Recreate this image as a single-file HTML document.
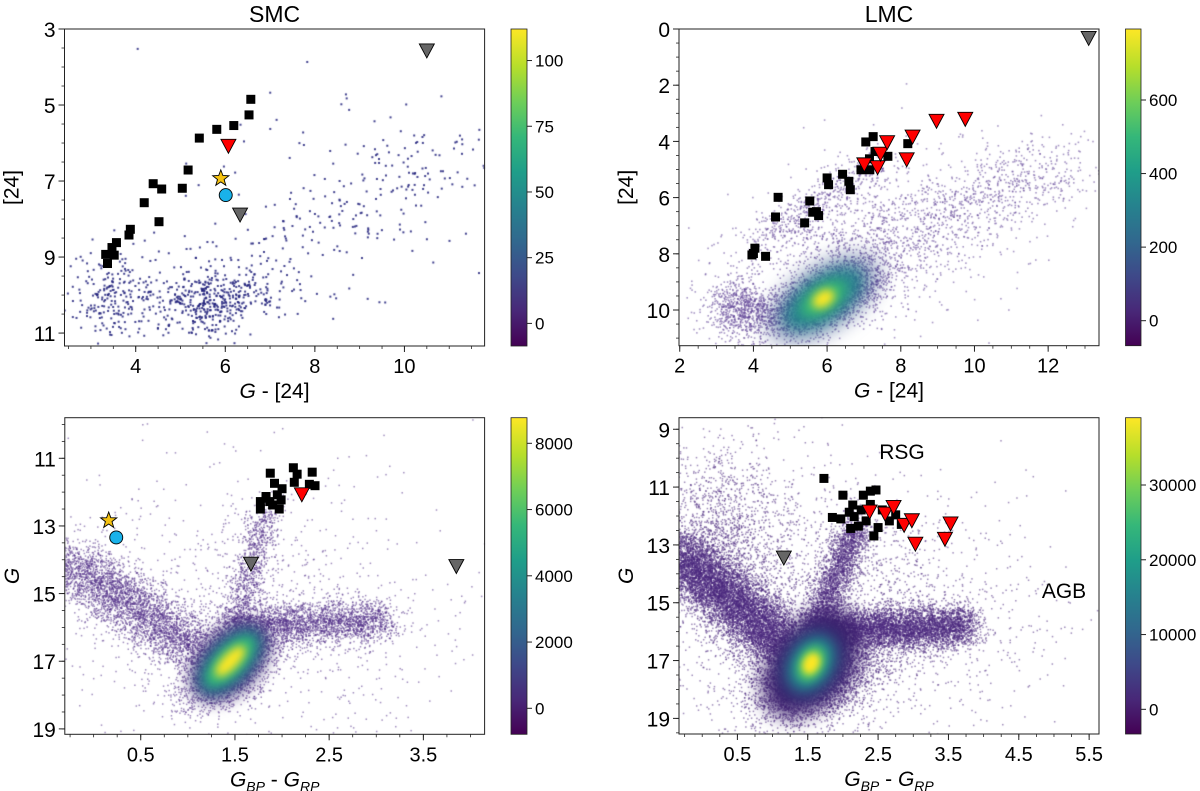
<!DOCTYPE html>
<html><head><meta charset="utf-8"><style>
html,body{margin:0;padding:0;background:#fff}
#wrap{position:relative;width:1200px;height:791px;overflow:hidden}
canvas,svg{position:absolute;left:0;top:0}
text{font-family:"Liberation Sans","DejaVu Sans",sans-serif;fill:#000}
</style></head><body>
<div id="wrap">
<canvas id="cv" width="1200" height="791"></canvas>
<svg id="sv" width="1200" height="791" xmlns="http://www.w3.org/2000/svg">
<defs>
<linearGradient id="vir" x1="0" y1="1" x2="0" y2="0">
<stop offset="0" stop-color="#440154"/><stop offset="0.11" stop-color="#482878"/><stop offset="0.22" stop-color="#3e4989"/><stop offset="0.33" stop-color="#31688e"/><stop offset="0.44" stop-color="#26828e"/><stop offset="0.55" stop-color="#1f9e89"/><stop offset="0.66" stop-color="#35b779"/><stop offset="0.77" stop-color="#6ece58"/><stop offset="0.88" stop-color="#b5de2b"/><stop offset="1" stop-color="#fde725"/>
</linearGradient>
</defs>
</svg>
</div>
<script>
// ---- Data arrays ----
const smcTopSqX=[6.57,6.53,6.19,5.81,5.42,5.17,5.04,4.58,4.39,4.19,4.52,3.88,3.85,3.57,3.47,3.33,3.52,3.37];
const smcTopSqY=[4.85,5.26,5.54,5.64,5.87,6.71,7.19,7.21,7.07,7.57,8.07,8.27,8.42,8.62,8.75,8.93,8.95,9.17];
const smcTopRedX=[6.07], smcTopRedY=[6.06];
const smcTopGrayX=[6.33,10.5], smcTopGrayY=[7.87,3.55];
const smcTopStarX=[5.90], smcTopStarY=[6.93];
const smcTopCircX=[6.01], smcTopCircY=[7.37];

const lmcTopSqX=[4.67,4.60,5.39,5.53,5.61,5.71,5.77,6.00,6.04,6.42,6.59,6.63,6.92,7.05,7.25,7.15,7.30,7.16,7.65,8.19,4.00,4.04,3.96,4.33];
const lmcTopSqY=[5.99,6.69,6.90,6.12,6.52,6.50,6.64,5.30,5.54,5.17,5.42,5.72,5.01,4.02,3.83,4.62,4.36,5.01,4.53,4.08,7.99,7.80,8.04,8.09];
const lmcTopRedX=[7.01,7.37,7.45,7.63,8.16,8.32,8.97,9.75];
const lmcTopRedY=[4.80,4.90,4.42,4.01,4.62,3.81,3.25,3.18];
const lmcTopGrayX=[13.1], lmcTopGrayY=[0.30];

const smcBotSqX=[1.875,2.12,2.16,2.32,2.13,2.29,2.35,1.92,2.0,1.95,1.83,1.77,1.87,1.99,1.77,1.90,1.97,1.83];
const smcBotSqY=[11.44,11.28,11.47,11.41,11.71,11.77,11.81,11.74,11.9,12.08,12.13,12.28,12.28,12.23,12.50,12.38,12.50,12.18];
const smcBotRedX=[2.21], smcBotRedY=[12.05];
const smcBotGrayX=[1.67,3.85], smcBotGrayY=[14.10,14.17];
const smcBotStarX=[0.16], smcBotStarY=[12.84];
const smcBotCircX=[0.24], smcBotCircY=[13.34];

const lmcBotSqX=[1.73,2.0,2.29,2.39,2.47,2.14,2.39,2.09,2.56,1.85,1.97,2.16,2.33,2.11,2.22,2.50,2.44,2.66,2.83,2.75,2.26];
const lmcBotSqY=[10.70,11.28,11.28,11.14,11.10,11.62,11.60,11.87,11.79,12.05,12.10,12.02,12.17,12.43,12.35,12.40,12.69,12.17,12.29,11.96,11.79];
const lmcBotRedX=[2.38,2.60,2.72,2.87,2.98,3.03,3.45,3.53];
const lmcBotRedY=[11.83,11.90,11.67,12.29,12.13,12.94,12.77,12.24];
const lmcBotGrayX=[1.16], lmcBotGrayY=[13.42];

const cb1Ticks=[0,25,50,75,100], cb2Ticks=[0,200,400,600], cb3Ticks=[0,2000,4000,6000,8000], cb4Ticks=[0,10000,20000,30000];
const p1XTicks=[4,6,8,10], p1YTicks=[3,5,7,9,11];
const p2XTicks=[2,4,6,8,10,12], p2YTicks=[0,2,4,6,8,10];
const p3XTicks=[0.5,1.5,2.5,3.5], p3YTicks=[11,13,15,17,19];
const p4XTicks=[0.5,1.5,2.5,3.5,4.5,5.5], p4YTicks=[9,11,13,15,17,19];

const NS="http://www.w3.org/2000/svg";
const sv=document.getElementById('sv');
function el(tag,attrs,parent){const e=document.createElementNS(NS,tag);for(const k in attrs)e.setAttribute(k,attrs[k]);(parent||sv).appendChild(e);return e;}

function makePanel(o){
  o.px=x=>o.L+(x-o.xmin)/(o.xmax-o.xmin)*(o.R-o.L);
  o.py=y=>o.T+(y-o.ymin)/(o.ymax-o.ymin)*(o.B-o.T);
  return o;
}
const P1=makePanel({L:64.5,R:484.6,T:29,B:346,xmin:2.41,xmax:11.79,ymin:3,ymax:11.34,xminor:0.5,yminor:0.5,cbL:511,cbR:527,cmin:-8.6,cmax:112});
const P2=makePanel({L:679,R:1099,T:29,B:345.7,xmin:1.98,xmax:13.38,ymin:0,ymax:11.27,xminor:0.5,yminor:0.5,cbL:1125.5,cbR:1141,cmin:-68,cmax:793});
const P3=makePanel({L:64.8,R:484.6,T:417.7,B:734.3,xmin:-0.306,xmax:4.15,ymin:9.8,ymax:19.16,xminor:0.25,yminor:0.5,cbL:511,cbR:527,cmin:-785,cmax:8773});
const P4=makePanel({L:679,R:1099,T:417.7,B:734,xmin:-0.33,xmax:5.64,ymin:8.6,ymax:19.54,xminor:0.25,yminor:0.5,cbL:1125.5,cbR:1141,cmin:-3300,cmax:39000});

// ---- density clouds (background rendering) ----
const cv=document.getElementById('cv');const ctx=cv.getContext('2d');
let seed=12345;function rnd(){seed|=0;seed=seed+0x6D2B79F5|0;let t=Math.imul(seed^seed>>>15,1|seed);t=t+Math.imul(t^t>>>7,61|t)^t;return((t^t>>>14)>>>0)/4294967296;}
function gauss(){let u=rnd()||1e-9,v=rnd();return Math.sqrt(-2*Math.log(u))*Math.cos(2*Math.PI*v);}
function cloud(P,c,col,r){
  ctx.save();ctx.beginPath();ctx.rect(P.L,P.T,P.R-P.L,P.B-P.T);ctx.clip();ctx.fillStyle=col;
  for(let i=0;i<c.n;i++){
    let x,y;
    if(c.band){const t=rnd();const g=gauss()*c.w;x=c.x1+(c.x2-c.x1)*t+g*c.nx;y=c.y1+(c.y2-c.y1)*t+gauss()*c.w*c.ny;}
    else{const g1=gauss(),g2=gauss();x=c.cx+c.sx*g1;y=c.cy+c.sy*(c.rho*g1+Math.sqrt(1-c.rho*c.rho)*g2);}
    ctx.fillRect(P.px(x)-r/2,P.py(y)-r/2,r,r);
  }
  ctx.restore();
}
function heat(P,cx,cy,layers){
  ctx.save();ctx.beginPath();ctx.rect(P.L,P.T,P.R-P.L,P.B-P.T);ctx.clip();
  for(const l of layers){ctx.filter='blur('+l.b+'px)';ctx.fillStyle=l.c;ctx.beginPath();ctx.ellipse(P.px(cx)+(l.dx||0),P.py(cy)+(l.dy||0),l.a,l.bb,l.rot,0,2*Math.PI);ctx.fill();}
  ctx.restore();
}
// P1
const c1='rgba(35,35,125,0.85)';
cloud(P1,{cx:5.7,cy:10.2,sx:0.6,sy:0.4,rho:-0.3,n:300},c1,2);
cloud(P1,{cx:3.4,cy:10.0,sx:0.4,sy:0.6,rho:0,n:160},c1,2);
cloud(P1,{cx:5.2,cy:9.9,sx:1.4,sy:0.7,rho:0,n:260},c1,2);
cloud(P1,{band:1,x1:6.5,y1:9.2,x2:11.6,y2:6.0,w:0.75,nx:0.8,ny:0.9,n:200},c1,2);
cloud(P1,{cx:8,cy:7,sx:2.5,sy:1.8,rho:0,n:60},c1,2);
// P2
const c2='rgba(95,65,150,0.55)';
cloud(P2,{cx:3.7,cy:10.0,sx:0.45,sy:0.5,rho:0,n:700},c2,1.6);
cloud(P2,{cx:5.9,cy:9.6,sx:0.9,sy:0.65,rho:-0.6,n:2400},c2,1.6);
cloud(P2,{band:1,x1:5.8,y1:8.5,x2:12.5,y2:4.8,w:0.8,nx:0.9,ny:0.9,n:1100},c2,1.6);
cloud(P2,{band:1,x1:4.2,y1:7.5,x2:7.5,y2:4.8,w:0.5,nx:0.7,ny:0.7,n:500},c2,1.6);
cloud(P2,{cx:6.8,cy:8.2,sx:2.4,sy:1.9,rho:-0.5,n:1000},c2,1.6);
heat(P2,5.9,9.6,[{c:'rgba(60,80,140,0.5)',a:65,bb:32,rot:-0.6,b:10},{c:'#25858e',a:46,bb:22,rot:-0.6,b:8},{c:'#3cbb75',a:26,bb:13,rot:-0.6,b:6},{c:'#fde725',a:12,bb:8,rot:-0.6,b:4}]);
// P3
const c3='rgba(80,45,135,0.55)';
cloud(P3,{band:1,x1:-0.35,y1:14.0,x2:1.2,y2:16.8,w:0.5,nx:0.35,ny:0.9,n:3800},c3,1.5);
cloud(P3,{band:1,x1:1.4,y1:16.0,x2:3.1,y2:15.8,w:0.32,nx:0.4,ny:1,n:2800},c3,1.5);
cloud(P3,{band:1,x1:1.5,y1:16.0,x2:1.82,y2:12.6,w:0.1,nx:1,ny:1.5,n:900},c3,1.5);
cloud(P3,{cx:1.45,cy:17.2,sx:0.25,sy:0.6,rho:-0.5,n:2500},c3,1.5);
cloud(P3,{cx:1.6,cy:15.5,sx:1.2,sy:2.0,rho:0,n:1100},c3,1.5);
heat(P3,1.45,17.0,[{c:'rgba(70,40,120,0.8)',a:48,bb:30,rot:-0.8,b:8},{c:'#2a788e',a:42,bb:22,rot:-0.8,b:7},{c:'#35b779',a:32,bb:14,rot:-0.8,b:5},{c:'#fde725',a:20,bb:8,rot:-0.8,b:4}]);
// P4
const c4='rgba(75,40,125,0.55)';
cloud(P4,{band:1,x1:-0.4,y1:13.2,x2:1.3,y2:16.8,w:0.55,nx:0.4,ny:1,n:9000},c4,1.5);
cloud(P4,{band:1,x1:1.6,y1:16.0,x2:3.8,y2:15.8,w:0.38,nx:0.4,ny:1,n:6000},c4,1.5);
cloud(P4,{band:1,x1:1.6,y1:16.0,x2:2.2,y2:12.3,w:0.14,nx:1,ny:1.5,n:2500},c4,1.5);
cloud(P4,{cx:1.6,cy:17.6,sx:0.4,sy:0.7,rho:-0.3,n:5000},c4,1.5);
cloud(P4,{cx:0.3,cy:12.5,sx:0.5,sy:1.5,rho:0,n:1500},c4,1.5);
cloud(P4,{cx:1.8,cy:15.5,sx:1.3,sy:2.2,rho:0,n:2500},c4,1.5);
heat(P4,1.55,17.1,[{c:'#3a1f6c',a:60,bb:38,rot:-0.9,b:10},{c:'rgba(45,100,140,0.8)',a:36,bb:26,rot:-1.0,b:8},{c:'#21918c',a:26,bb:18,rot:-1.0,b:6},{c:'#5ec962',a:18,bb:12,rot:-1.1,b:4},{c:'#fde725',a:11,bb:8,rot:-1.1,b:3}]);
ctx.filter='none';

// ---- axes ----
function fmt(v){return (Math.round(v*10)/10).toString();}
function axes(P,name,xt,yt,cbt,title,xlab,ylab,xlabSub){
  const g=el('g',{});
  
  
  el('rect',{x:P.L,y:P.T,width:P.R-P.L,height:P.B-P.T,fill:'none',stroke:'#222','stroke-width':1},g);
  for(let v=Math.ceil(P.xmin/P.xminor)*P.xminor;v<=P.xmax;v+=P.xminor){el('line',{x1:P.px(v),x2:P.px(v),y1:P.B,y2:P.B+3,stroke:'#222','stroke-width':0.8},g);}
  for(let v=Math.ceil(P.ymin/P.yminor)*P.yminor;v<=P.ymax;v+=P.yminor){el('line',{x1:P.L-3,x2:P.L,y1:P.py(v),y2:P.py(v),stroke:'#222','stroke-width':0.8},g);}
  xt.forEach(v=>{const x=P.px(v);el('line',{x1:x,x2:x,y1:P.B,y2:P.B+6,stroke:'#222'},g);
    const t=el('text',{x:x,y:P.B+27,'font-size':20,'text-anchor':'middle'},g);t.textContent=fmt(v);
    
    });
  yt.forEach(v=>{const y=P.py(v);el('line',{x1:P.L-6,x2:P.L,y1:y,y2:y,stroke:'#222'},g);
    const t=el('text',{x:P.L-9,y:y+8,'font-size':21,'text-anchor':'end'},g);t.textContent=fmt(v);
    
    });
  const cb=el('rect',{x:P.cbL,y:P.T,width:P.cbR-P.cbL,height:P.B-P.T,fill:'url(#vir)',stroke:'#222','stroke-width':0.8},g);
  
  
  const cy=v=>P.B-(v-P.cmin)/(P.cmax-P.cmin)*(P.B-P.T);
  cbt.forEach(v=>{const y=cy(v);el('line',{x1:P.cbR,x2:P.cbR+5,y1:y,y2:y,stroke:'#222'},g);
    const t=el('text',{x:P.cbR+8,y:y+6,'font-size':17},g);t.textContent=v;
    
    });
  const cx=(P.L+P.R)/2;
  if(title){const t=el('text',{x:cx,y:22,'font-size':23,'text-anchor':'middle'},g);t.textContent=title;
    
    }
  const xl=el('text',{x:cx,y:P.B+52,'font-size':21,'text-anchor':'middle'},g);
  
  
  if(xlabSub){xl.innerHTML='<tspan font-style="italic">G</tspan><tspan font-size="14" dy="5" font-style="italic">BP</tspan><tspan dy="-5"> - </tspan><tspan font-style="italic">G</tspan><tspan font-size="14" dy="5" font-style="italic">RP</tspan>';}
  else{xl.innerHTML='<tspan font-style="italic">G</tspan> - [24]';}
  const yl=el('text',{x:0,y:0,'font-size':21,'text-anchor':'middle',transform:'translate('+(P.L-46)+','+((P.T+P.B)/2)+') rotate(-90)'},g);
  
  
  if(ylab==='G'){yl.innerHTML='<tspan font-style="italic">G</tspan>';}else{yl.textContent=ylab;}
}
axes(P1,'smc-top',p1XTicks,p1YTicks,cb1Ticks,'SMC','','[24]',false);
axes(P2,'lmc-top',p2XTicks,p2YTicks,cb2Ticks,'LMC','','[24]',false);
axes(P3,'smc-bottom',p3XTicks,p3YTicks,cb3Ticks,'','','G',true);
axes(P4,'lmc-bottom',p4XTicks,p4YTicks,cb4Ticks,'','','G',true);

// ---- markers ----
function squares(P,xs,ys,name){xs.forEach((x,i)=>{const m=el('rect',{x:P.px(x)-4.5,y:P.py(ys[i])-4.5,width:9,height:9,fill:'#000'});
  
  });}
function tris(P,xs,ys,fill,name){xs.forEach((x,i)=>{const cx=P.px(x),cy=P.py(ys[i]);
  const m=el('polygon',{points:(cx-7.5)+','+(cy-6)+' '+(cx+7.5)+','+(cy-6)+' '+cx+','+(cy+8),fill:fill,stroke:'#000','stroke-width':0.9});
  
  });}
function stars(P,xs,ys,name){xs.forEach((x,i)=>{const cx=P.px(x),cy=P.py(ys[i]);let pts=[];
  for(let k=0;k<10;k++){const r=k%2?3.5:8.5;const a=-Math.PI/2+k*Math.PI/5;pts.push((cx+r*Math.cos(a)).toFixed(1)+','+(cy+r*Math.sin(a)).toFixed(1));}
  const m=el('polygon',{points:pts.join(' '),fill:'#f5c211',stroke:'#000','stroke-width':0.9});
  
  });}
function circs(P,xs,ys,name){xs.forEach((x,i)=>{const m=el('circle',{cx:P.px(x),cy:P.py(ys[i]),r:6.5,fill:'#19b2ea',stroke:'#000','stroke-width':0.9});
  
  });}

squares(P1,smcTopSqX,smcTopSqY,'smc-square-marker');
tris(P1,smcTopRedX,smcTopRedY,'#ff0000','smc-red-triangle');
tris(P1,smcTopGrayX,smcTopGrayY,'#666666','smc-gray-triangle');
stars(P1,smcTopStarX,smcTopStarY,'smc-star-marker');
circs(P1,smcTopCircX,smcTopCircY,'smc-circle-marker');

squares(P2,lmcTopSqX,lmcTopSqY,'lmc-square-marker');
tris(P2,lmcTopRedX,lmcTopRedY,'#ff0000','lmc-red-triangle');
tris(P2,lmcTopGrayX,lmcTopGrayY,'#666666','lmc-gray-triangle');

squares(P3,smcBotSqX,smcBotSqY,'smc-square-marker');
tris(P3,smcBotRedX,smcBotRedY,'#ff0000','smc-red-triangle');
tris(P3,smcBotGrayX,smcBotGrayY,'#666666','smc-gray-triangle');
stars(P3,smcBotStarX,smcBotStarY,'smc-star-marker');
circs(P3,smcBotCircX,smcBotCircY,'smc-circle-marker');

squares(P4,lmcBotSqX,lmcBotSqY,'lmc-square-marker');
tris(P4,lmcBotRedX,lmcBotRedY,'#ff0000','lmc-red-triangle');
tris(P4,lmcBotGrayX,lmcBotGrayY,'#666666','lmc-gray-triangle');

const rsg=el('text',{x:902,y:459,'font-size':21,'text-anchor':'middle'});rsg.textContent='RSG';


const agb=el('text',{x:1064,y:598,'font-size':21,'text-anchor':'middle'});agb.textContent='AGB';


</script>
</body></html>
